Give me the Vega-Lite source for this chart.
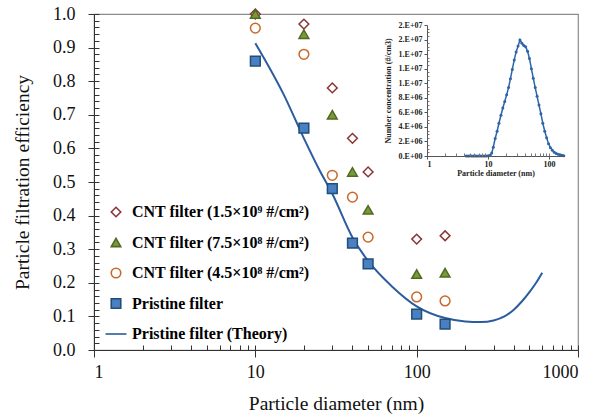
{
  "$schema": "https://vega.github.io/schema/vega-lite/v6.json",
  "autosize": "none",
  "padding": {"left": 94, "top": 14, "right": 31, "bottom": 70},
  "width": 484,
  "height": 336,
  "background": "white",
  "config": {
    "view": {"stroke": "#8c8c8c", "strokeWidth": 1.2},
    "axis": {"grid": false},
    "font": "Liberation Serif"
  },
  "datasets": {
    "pts": [
      {"d": 10, "e": 1.0, "s": "CNT filter (1.5×10⁹ #/cm²)"},
      {"d": 20, "e": 0.97, "s": "CNT filter (1.5×10⁹ #/cm²)"},
      {"d": 30, "e": 0.78, "s": "CNT filter (1.5×10⁹ #/cm²)"},
      {"d": 40, "e": 0.63, "s": "CNT filter (1.5×10⁹ #/cm²)"},
      {"d": 50, "e": 0.53, "s": "CNT filter (1.5×10⁹ #/cm²)"},
      {"d": 100, "e": 0.33, "s": "CNT filter (1.5×10⁹ #/cm²)"},
      {"d": 150, "e": 0.34, "s": "CNT filter (1.5×10⁹ #/cm²)"},
      {"d": 10, "e": 1.0, "s": "CNT filter (7.5×10⁸ #/cm²)"},
      {"d": 20, "e": 0.94, "s": "CNT filter (7.5×10⁸ #/cm²)"},
      {"d": 30, "e": 0.70, "s": "CNT filter (7.5×10⁸ #/cm²)"},
      {"d": 40, "e": 0.53, "s": "CNT filter (7.5×10⁸ #/cm²)"},
      {"d": 50, "e": 0.417, "s": "CNT filter (7.5×10⁸ #/cm²)"},
      {"d": 100, "e": 0.226, "s": "CNT filter (7.5×10⁸ #/cm²)"},
      {"d": 150, "e": 0.23, "s": "CNT filter (7.5×10⁸ #/cm²)"},
      {"d": 10, "e": 0.958, "s": "CNT filter (4.5×10⁸ #/cm²)"},
      {"d": 20, "e": 0.88, "s": "CNT filter (4.5×10⁸ #/cm²)"},
      {"d": 30, "e": 0.52, "s": "CNT filter (4.5×10⁸ #/cm²)"},
      {"d": 40, "e": 0.455, "s": "CNT filter (4.5×10⁸ #/cm²)"},
      {"d": 50, "e": 0.336, "s": "CNT filter (4.5×10⁸ #/cm²)"},
      {"d": 100, "e": 0.158, "s": "CNT filter (4.5×10⁸ #/cm²)"},
      {"d": 150, "e": 0.146, "s": "CNT filter (4.5×10⁸ #/cm²)"},
      {"d": 10, "e": 0.86, "s": "Pristine filter"},
      {"d": 20, "e": 0.66, "s": "Pristine filter"},
      {"d": 30, "e": 0.48, "s": "Pristine filter"},
      {"d": 40, "e": 0.318, "s": "Pristine filter"},
      {"d": 50, "e": 0.256, "s": "Pristine filter"},
      {"d": 100, "e": 0.107, "s": "Pristine filter"},
      {"d": 150, "e": 0.077, "s": "Pristine filter"}
    ],
    "theory": [
      {"d": 10, "e": 0.913},
      {"d": 15, "e": 0.76},
      {"d": 20, "e": 0.63},
      {"d": 25, "e": 0.535},
      {"d": 30, "e": 0.465},
      {"d": 40, "e": 0.335},
      {"d": 50, "e": 0.265},
      {"d": 70, "e": 0.19},
      {"d": 100, "e": 0.13},
      {"d": 150, "e": 0.095},
      {"d": 200, "e": 0.085},
      {"d": 250, "e": 0.083},
      {"d": 300, "e": 0.088},
      {"d": 350, "e": 0.1},
      {"d": 400, "e": 0.12},
      {"d": 450, "e": 0.145},
      {"d": 500, "e": 0.172},
      {"d": 550, "e": 0.2},
      {"d": 600, "e": 0.23}
    ],
    "psd": [
      {"d": 4.4, "n": 0}, {"d": 4.7, "n": 0}, {"d": 5.0, "n": 0}, {"d": 5.4, "n": 0},
      {"d": 5.8, "n": 0}, {"d": 6.2, "n": 0}, {"d": 6.6, "n": 0}, {"d": 7.1, "n": 0},
      {"d": 7.6, "n": 0}, {"d": 8.2, "n": 0}, {"d": 8.8, "n": 0}, {"d": 9.4, "n": 0},
      {"d": 10.1, "n": 20000}, {"d": 10.8, "n": 100000}, {"d": 11.5, "n": 400000},
      {"d": 12.2, "n": 1200000}, {"d": 13.1, "n": 2400000}, {"d": 14.1, "n": 3400000},
      {"d": 15.1, "n": 4500000}, {"d": 16.3, "n": 5600000}, {"d": 17.5, "n": 6600000},
      {"d": 18.8, "n": 7500000}, {"d": 20.2, "n": 8400000}, {"d": 21.7, "n": 9400000},
      {"d": 23.3, "n": 10600000}, {"d": 25.0, "n": 11900000}, {"d": 26.9, "n": 13200000},
      {"d": 28.9, "n": 14300000}, {"d": 31.1, "n": 15100000}, {"d": 33.4, "n": 15950000},
      {"d": 35.9, "n": 15500000}, {"d": 38.5, "n": 15200000}, {"d": 41.4, "n": 15000000},
      {"d": 44.5, "n": 14400000}, {"d": 47.8, "n": 13400000}, {"d": 51.4, "n": 12000000},
      {"d": 55.2, "n": 10700000}, {"d": 59.4, "n": 9400000}, {"d": 63.8, "n": 8200000},
      {"d": 68.5, "n": 7000000}, {"d": 73.7, "n": 5800000}, {"d": 79.1, "n": 4500000},
      {"d": 85.1, "n": 3400000}, {"d": 91.4, "n": 2500000}, {"d": 98.2, "n": 1700000},
      {"d": 105.5, "n": 1150000}, {"d": 113.4, "n": 800000}, {"d": 121.9, "n": 520000},
      {"d": 131.0, "n": 350000}, {"d": 140.7, "n": 250000}, {"d": 151.2, "n": 180000},
      {"d": 162.5, "n": 100000}, {"d": 174.6, "n": 40000}
    ]
  },
  "layer": [
    {
      "layer": [
        {
          "data": {"name": "theory"},
          "mark": {"type": "line", "color": "#2B5C9E", "strokeWidth": 2, "interpolate": "monotone"},
          "encoding": {
            "x": {
              "field": "d", "type": "quantitative",
              "scale": {"type": "log", "domain": [1, 1000], "nice": false},
              "axis": {
                "orient": "bottom", "values": [1, 10, 100, 1000], "format": "d",
                "tickSize": 7, "labelPadding": 6, "labelFontSize": 18, "labelFont": "Liberation Serif",
                "labelColor": "#111", "domainColor": "#333", "tickColor": "#333",
                "title": "Particle diameter (nm)", "titleFont": "Liberation Serif", "titleFontSize": 19.5,
                "titleFontWeight": "normal", "titleColor": "#111", "titlePadding": 13
              }
            },
            "y": {
              "field": "e", "type": "quantitative",
              "scale": {"domain": [0, 1], "nice": false, "zero": false},
              "axis": {
                "orient": "left", "values": [0, 0.1, 0.2, 0.3, 0.4, 0.5, 0.6, 0.7, 0.8, 0.9, 1.0], "format": ".1f",
                "tickSize": 6, "labelPadding": 13, "labelFontSize": 18, "labelFont": "Liberation Serif",
                "labelColor": "#111", "domainColor": "#333", "tickColor": "#333",
                "title": "Particle filtration efficiency", "titleFont": "Liberation Serif", "titleFontSize": 19.5,
                "titleFontWeight": "normal", "titleColor": "#111", "titlePadding": 20
              }
            }
          }
        },
        {
          "data": {"name": "pts"},
          "mark": {"type": "point", "filled": true, "size": 95, "strokeWidth": 1.5, "opacity": 1},
          "encoding": {
            "x": {
              "field": "d", "type": "quantitative",
              "axis": {
                "orient": "bottom",
                "values": [1, 2, 3, 4, 5, 6, 7, 8, 9, 10, 20, 30, 40, 50, 60, 70, 80, 90, 100, 200, 300, 400, 500, 600, 700, 800, 900, 1000],
                "tickSize": -5, "labels": false, "domain": false, "title": null, "tickColor": "#333"
              }
            },
            "y": {
              "field": "e", "type": "quantitative",
              "axis": {
                "orient": "left",
                "values": [0, 0.02, 0.04, 0.06, 0.08, 0.1, 0.12, 0.14, 0.16, 0.18, 0.2, 0.22, 0.24, 0.26, 0.28, 0.3, 0.32, 0.34, 0.36, 0.38, 0.4, 0.42, 0.44, 0.46, 0.48, 0.5, 0.52, 0.54, 0.56, 0.58, 0.6, 0.62, 0.64, 0.66, 0.68, 0.7, 0.72, 0.74, 0.76, 0.78, 0.8, 0.82, 0.84, 0.86, 0.88, 0.9, 0.92, 0.94, 0.96, 0.98, 1.0],
                "tickSize": -5, "labels": false, "domain": false, "title": null, "tickColor": "#333"
              }
            },
            "shape": {
              "field": "s", "type": "nominal",
              "scale": {
                "domain": ["CNT filter (1.5×10⁹ #/cm²)", "CNT filter (7.5×10⁸ #/cm²)", "CNT filter (4.5×10⁸ #/cm²)", "Pristine filter", "Pristine filter (Theory)"],
                "range": ["diamond", "triangle-up", "circle", "square", "M-2.2,0H2.2"]
              },
              "legend": {
                "orient": "none", "legendX": 14, "legendY": 190, "title": null, "padding": 0,
                "symbolSize": 90, "symbolStrokeWidth": 1.6,
                "labelFont": "Liberation Serif", "labelFontSize": 16, "labelFontWeight": "bold", "labelColor": "#000",
                "labelOffset": 8, "rowPadding": 14.5, "labelLimit": 400
              }
            },
            "stroke": {
              "field": "s", "type": "nominal",
              "scale": {
                "domain": ["CNT filter (1.5×10⁹ #/cm²)", "CNT filter (7.5×10⁸ #/cm²)", "CNT filter (4.5×10⁸ #/cm²)", "Pristine filter", "Pristine filter (Theory)"],
                "range": ["#8B3535", "#4F6B22", "#C8692B", "#1F4E79", "#2B5C9E"]
              },
              "legend": {
                "orient": "none", "legendX": 14, "legendY": 190, "title": null, "padding": 0,
                "symbolSize": 90, "symbolStrokeWidth": 1.6,
                "labelFont": "Liberation Serif", "labelFontSize": 16, "labelFontWeight": "bold", "labelColor": "#000",
                "labelOffset": 8, "rowPadding": 14.5, "labelLimit": 400
              }
            },
            "fill": {
              "field": "s", "type": "nominal",
              "scale": {
                "domain": ["CNT filter (1.5×10⁹ #/cm²)", "CNT filter (7.5×10⁸ #/cm²)", "CNT filter (4.5×10⁸ #/cm²)", "Pristine filter", "Pristine filter (Theory)"],
                "range": ["#FFFFFF", "#7A9A3A", "#FFFFFF", "#4A7FC1", "transparent"]
              },
              "legend": {
                "orient": "none", "legendX": 14, "legendY": 190, "title": null, "padding": 0,
                "symbolSize": 90, "symbolStrokeWidth": 1.6,
                "labelFont": "Liberation Serif", "labelFontSize": 16, "labelFontWeight": "bold", "labelColor": "#000",
                "labelOffset": 8, "rowPadding": 14.5, "labelLimit": 400
              }
            }
          }
        }
      ],
      "resolve": {"axis": {"x": "independent", "y": "independent"}}
    },
    {
      "layer": [
        {
          "mark": {"type": "rect", "filled": false, "color": "#9A9A9A", "strokeWidth": 1},
          "encoding": {
            "x": {
              "datum": 1, "type": "quantitative",
              "scale": {"type": "log", "domain": [1, 176], "range": [333, 470], "nice": false},
              "axis": {
                "orient": "bottom", "offset": -194, "values": [1, 10, 100], "format": "d",
                "tickSize": 3, "labelPadding": 1, "labelFontSize": 8, "labelFontWeight": "bold",
                "labelFont": "Liberation Serif", "labelColor": "#222", "domainColor": "#555", "tickColor": "#555",
                "title": "Particle diameter (nm)", "titleFont": "Liberation Serif", "titleFontSize": 8,
                "titleFontWeight": "bold", "titleColor": "#222", "titlePadding": 1, "zindex": 1
              }
            },
            "x2": {"datum": 176},
            "y": {
              "datum": 0, "type": "quantitative",
              "scale": {"domain": [0, 18000000], "range": [142, 11], "nice": false, "zero": false},
              "axis": {
                "orient": "left", "offset": -333,
                "values": [0, 2000000, 4000000, 6000000, 8000000, 10000000, 12000000, 14000000, 16000000, 18000000],
                "labelExpr": "datum.value == 0 ? '0.E+00' : format(round(datum.value / pow(10, floor(log(datum.value) / LN10 + 1e-9))), 'd') + '.E+0' + format(floor(log(datum.value) / LN10 + 1e-9), 'd')",
                "tickSize": 3, "labelPadding": 2, "labelFontSize": 8, "labelFontWeight": "bold",
                "labelFont": "Liberation Serif", "labelColor": "#222", "domainColor": "#555", "tickColor": "#555",
                "title": "Number concentration (#/cm3)", "titleFont": "Liberation Serif", "titleFontSize": 8,
                "titleFontWeight": "bold", "titleColor": "#222", "titlePadding": 6, "zindex": 1
              }
            },
            "y2": {"datum": 18000000}
          }
        },
        {
          "data": {"name": "psd"},
          "mark": {"type": "line", "color": "#2E64A8", "strokeWidth": 1.5,
                   "point": {"filled": true, "size": 9, "color": "#2E64A8", "opacity": 1}},
          "encoding": {
            "x": {
              "field": "d", "type": "quantitative",
              "axis": {
                "orient": "bottom", "offset": -194,
                "values": [2, 3, 4, 5, 6, 7, 8, 9, 20, 30, 40, 50, 60, 70, 80, 90, 100],
                "tickSize": -3, "labels": false, "domain": false, "title": null, "tickColor": "#777", "zindex": 1
              }
            },
            "y": {
              "field": "n", "type": "quantitative",
              "axis": {
                "orient": "left", "offset": -333,
                "values": [500000, 1000000, 1500000, 2500000, 3000000, 3500000, 4500000, 5000000, 5500000, 6500000, 7000000, 7500000, 8500000, 9000000, 9500000, 10500000, 11000000, 11500000, 12500000, 13000000, 13500000, 14500000, 15000000, 15500000, 16500000, 17000000, 17500000],
                "tickSize": -2, "labels": false, "domain": false, "title": null, "tickColor": "#777", "zindex": 1
              }
            }
          }
        }
      ],
      "resolve": {"axis": {"x": "independent", "y": "independent"}}
    }
  ],
  "resolve": {"scale": {"x": "independent", "y": "independent"}}
}
